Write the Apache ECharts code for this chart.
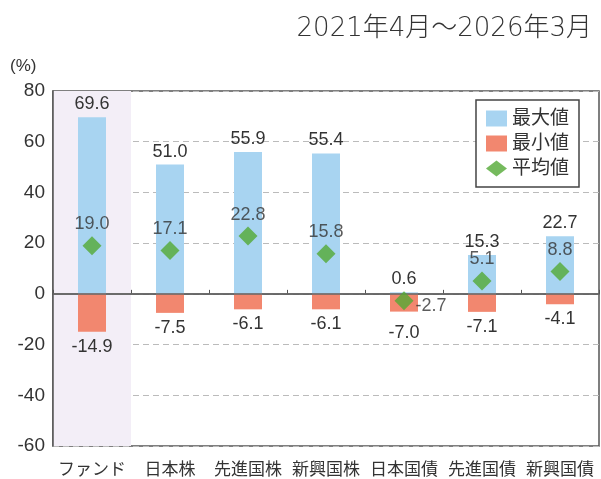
<!DOCTYPE html>
<html>
<head>
<meta charset="utf-8">
<script src="https://cdn.jsdelivr.net/npm/echarts@6/dist/echarts.min.js"></script>
<style>
  html, body { margin: 0; padding: 0; background: #fff; }
  #chart { width: 601px; height: 479px; }
</style>
</head>
<body>
<div id="chart"></div>
<script>
// データ
var categories = ['ファンド', '日本株', '先進国株', '新興国株', '日本国債', '先進国債', '新興国債'];
var maxValues = [69.6, 51.0, 55.9, 55.4, 0.6, 15.3, 22.7];
var minValues = [-14.9, -7.5, -6.1, -6.1, -7.0, -7.1, -4.1];
var avgValues = [19.0, 17.1, 22.8, 15.8, -2.7, 5.1, 8.8];
var seriesNames = ['最大値', '最小値', '平均値'];
var periodText = '2021年4月～2026年3月';

var FONT = "'Liberation Sans', 'Noto Sans CJK JP', sans-serif";
var fmt = function (p) { return p.value.toFixed(1); };

var myChart = echarts.init(document.getElementById('chart'));

var option = {
    animation: false,
    backgroundColor: '#fff',
    title: {
        text: periodText,
        right: 4,
        top: 11,
        textStyle: {
            fontFamily: "'DejaVu Sans', 'Noto Sans CJK JP', sans-serif",
            fontSize: 26,
            fontWeight: 300,
            color: '#333'
        }
    },
    graphic: [{
        type: 'text',
        left: 10,
        top: 58,
        style: { text: '(%)', font: '17px ' + FONT, fill: '#333' }
    }],
    legend: {
        orient: 'vertical',
        right: 22,
        top: 100,
        padding: [9, 10, 9, 10],
        itemGap: 6,
        itemWidth: 21,
        itemHeight: 16,
        borderColor: '#444',
        borderWidth: 1.5,
        borderRadius: 0,
        backgroundColor: '#fff',
        textStyle: { fontFamily: FONT, fontSize: 19, color: '#333' },
        data: [
            { name: seriesNames[0], icon: 'rect' },
            { name: seriesNames[1], icon: 'rect' },
            { name: seriesNames[2], icon: 'diamond' }
        ]
    },
    grid: {
        left: 53,
        right: 2,
        top: 91,
        bottom: 32,
        show: true,
        borderColor: '#555',
        borderWidth: 1.5
    },
    xAxis: {
        type: 'category',
        data: categories,
        axisLine: { show: true, lineStyle: { color: '#555', width: 1.5 } },
        axisTick: { show: true, inside: true, interval: 0, length: 4, lineStyle: { color: '#555' } },
        axisLabel: { interval: 0, fontFamily: FONT, fontSize: 17, color: '#333', margin: 16 },
        splitArea: {
            show: true,
            interval: 0,
            areaStyle: {
                color: ['#f3eef7', 'rgba(0,0,0,0)', 'rgba(0,0,0,0)', 'rgba(0,0,0,0)',
                    'rgba(0,0,0,0)', 'rgba(0,0,0,0)', 'rgba(0,0,0,0)']
            }
        }
    },
    yAxis: {
        type: 'value',
        min: -60,
        max: 80,
        interval: 20,
        axisLine: { show: true, lineStyle: { color: '#555', width: 1.5 } },
        axisTick: { show: false },
        axisLabel: { fontFamily: FONT, fontSize: 19, color: '#333', margin: 8 },
        splitLine: { show: true, lineStyle: { type: [6, 4], color: '#bbb', width: 1 } }
    },
    series: [{
        name: seriesNames[0],
        type: 'bar',
        barWidth: 28,
        barGap: '-100%',
        itemStyle: { color: '#a8d4f1' },
        label: {
            show: true, position: 'top', distance: 4,
            fontFamily: FONT, fontSize: 18, color: '#333', formatter: fmt
        },
        data: maxValues,
        markLine: {
            silent: true,
            symbol: 'none',
            label: { show: false },
            lineStyle: { type: 'solid', color: '#666', width: 1.5 },
            data: [{ yAxis: 0 }],
            z: 4
        }
    }, {
        name: seriesNames[1],
        type: 'bar',
        barWidth: 28,
        barGap: '-100%',
        itemStyle: { color: '#f2876f' },
        label: {
            show: true, position: 'bottom', distance: 6,
            fontFamily: FONT, fontSize: 18, color: '#333', formatter: fmt
        },
        data: minValues.map(function (v, i) {
            // 日本国債の最小値ラベルだけ少し下へ
            return i === 4 ? { value: v, label: { offset: [0, 6] } } : v;
        })
    }, {
        name: seriesNames[2],
        type: 'scatter',
        symbol: 'diamond',
        symbolSize: 19,
        z: 5,
        itemStyle: { color: '#52a934' },
        label: {
            show: true, position: 'top', distance: 3,
            fontFamily: FONT, fontSize: 18, color: '#333', formatter: fmt
        },
        data: avgValues.map(function (v, i) {
            return i === 4 ? { value: v, label: { position: 'right', distance: 2, offset: [0, 5] } } : v;
        })
    }]
};

myChart.setOption(option);
</script>
</body>
</html>
